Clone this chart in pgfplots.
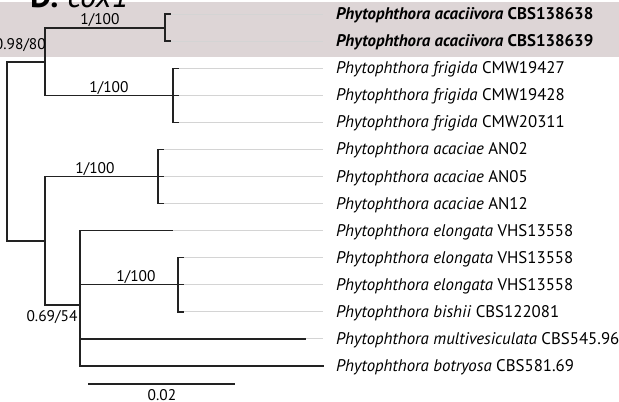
\documentclass[border=0pt]{standalone}
\usepackage{pgfplots}
\pgfplotsset{compat=1.18}
\usepackage{fontspec}
\setmainfont{PT Sans}
\definecolor{band}{HTML}{DDD5D6}
\definecolor{tipgray}{HTML}{D4D4D4}
\definecolor{tree}{HTML}{222222}
\newcommand\lab{\fontsize{16.9}{18}\selectfont}
\newcommand\supv{\fontsize{15.5}{17}\selectfont}
\newcommand\ttl{\fontsize{33}{35}\selectfont}
\begin{document}
\begin{tikzpicture}
\path[use as bounding box, clip] (0,0) rectangle (619bp,402bp);
\begin{axis}[at={(0,0)}, anchor=south west, scale only axis, width=619bp, height=402bp,
  xmin=0, xmax=619, ymin=0, ymax=402, y dir=reverse, hide axis, clip=false,
  br/.style={draw=tree, line width=1.3pt, no marks, solid, line join=miter, line cap=rect},
  tg/.style={draw=tipgray, line width=0.9pt, no marks, solid}]
% highlight band
\addplot[fill=band, draw=none, no marks] coordinates {(0,2) (619,2) (619,57) (0,57)} -- cycle;
% gray tip guides
\addplot[tg] coordinates {(170,14) (323,14)};
\addplot[tg] coordinates {(170,41) (323,41)};
\addplot[tg] coordinates {(178,68.2) (323,68.2)};
\addplot[tg] coordinates {(178,95.2) (323,95.2)};
\addplot[tg] coordinates {(178,122.3) (323,122.3)};
\addplot[tg] coordinates {(163,149.4) (323,149.4)};
\addplot[tg] coordinates {(163,176.5) (323,176.5)};
\addplot[tg] coordinates {(163,203.6) (323,203.6)};
\addplot[tg] coordinates {(172,230.6) (323,230.6)};
\addplot[tg] coordinates {(183,257.7) (323,257.7)};
\addplot[tg] coordinates {(183,284.8) (323,284.8)};
\addplot[tg] coordinates {(183,311.9) (323,311.9)};
\addplot[tg] coordinates {(305,338.9) (323,338.9)};
% root
\addplot[br] coordinates {(45,62) (7,62) (7,241) (45,241)};
% node A
\addplot[br] coordinates {(165,28) (45,28) (45,95.2) (173,95.2)};
% acaciivora
\addplot[br] coordinates {(170,14) (165,14) (165,41) (170,41)};
% frigida
\addplot[br] coordinates {(178,68.2) (173,68.2) (173,122.3) (178,122.3)};
\addplot[br] coordinates {(173,95.2) (178,95.2)};
% node B
\addplot[br] coordinates {(158,176.5) (45,176.5) (45,305) (80,305)};
% acaciae
\addplot[br] coordinates {(163,149.4) (158,149.4) (158,203.6) (163,203.6)};
\addplot[br] coordinates {(158,176.5) (163,176.5)};
% node C
\addplot[br] coordinates {(172,230.6) (80,230.6) (80,366) (323,366)};
\addplot[br] coordinates {(80,284.8) (178,284.8)};
\addplot[br] coordinates {(80,338.9) (305,338.9)};
% node D
\addplot[br] coordinates {(183,257.7) (178,257.7) (178,311.9) (183,311.9)};
\addplot[br] coordinates {(178,284.8) (183,284.8)};
% scale bar
\addplot[br] coordinates {(89,384) (234,384)};
% support values
\node[anchor=base, inner sep=0pt] at (axis cs:100,24.5) {\supv 1/100};
\node[anchor=base, inner sep=0pt] at (axis cs:109,92.5) {\supv 1/100};
\node[anchor=base, inner sep=0pt] at (axis cs:95,173.5) {\supv 1/100};
\node[anchor=base, inner sep=0pt] at (axis cs:136,281.5) {\supv 1/100};
\node[anchor=base east, inner sep=0pt] at (axis cs:46,50) {\supv 0.98/80};
\node[anchor=base, inner sep=0pt] at (axis cs:52,321) {\supv 0.69/54};
\node[anchor=base, inner sep=0pt] at (axis cs:162,400) {\supv 0.02};
\node[anchor=base west, inner sep=0pt] at (axis cs:30,8) {\ttl\textbf{D.} \textit{cox1}};
% taxon labels
\node[anchor=base west, inner sep=0pt] at (axis cs:336,19.5) {\lab\textbf{\textit{Phytophthora acaciivora} CBS138638}};
\node[anchor=base west, inner sep=0pt] at (axis cs:336,46.5) {\lab\textbf{\textit{Phytophthora acaciivora} CBS138639}};
\node[anchor=base west, inner sep=0pt] at (axis cs:336,73.7) {\lab\textit{Phytophthora frigida} CMW19427};
\node[anchor=base west, inner sep=0pt] at (axis cs:336,100.7) {\lab\textit{Phytophthora frigida} CMW19428};
\node[anchor=base west, inner sep=0pt] at (axis cs:336,127.8) {\lab\textit{Phytophthora frigida} CMW20311};
\node[anchor=base west, inner sep=0pt] at (axis cs:336,154.9) {\lab\textit{Phytophthora acaciae} AN02};
\node[anchor=base west, inner sep=0pt] at (axis cs:336,182) {\lab\textit{Phytophthora acaciae} AN05};
\node[anchor=base west, inner sep=0pt] at (axis cs:336,209.1) {\lab\textit{Phytophthora acaciae} AN12};
\node[anchor=base west, inner sep=0pt] at (axis cs:336,236.1) {\lab\textit{Phytophthora elongata} VHS13558};
\node[anchor=base west, inner sep=0pt] at (axis cs:336,263.2) {\lab\textit{Phytophthora elongata} VHS13558};
\node[anchor=base west, inner sep=0pt] at (axis cs:336,290.3) {\lab\textit{Phytophthora elongata} VHS13558};
\node[anchor=base west, inner sep=0pt] at (axis cs:336,317.4) {\lab\textit{Phytophthora bishii} CBS122081};
\node[anchor=base west, inner sep=0pt] at (axis cs:336,344.4) {\lab\textit{Phytophthora multivesiculata} CBS545.96};
\node[anchor=base west, inner sep=0pt] at (axis cs:336,371.5) {\lab\textit{Phytophthora botryosa} CBS581.69};
\end{axis}
\end{tikzpicture}
\end{document}
